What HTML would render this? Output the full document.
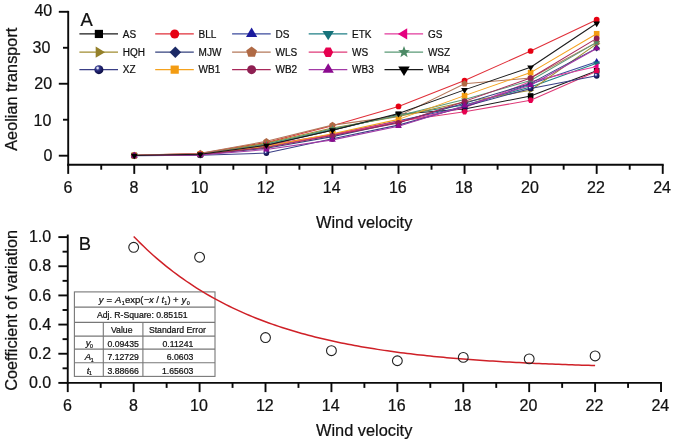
<!DOCTYPE html>
<html><head><meta charset="utf-8"><title>Aeolian transport vs wind velocity</title>
<style>html,body{margin:0;padding:0;background:#fff}svg{display:block;will-change:transform}text{font-family:"Liberation Sans",Arial,Helvetica,sans-serif;fill:#111;stroke:#111;stroke-width:0.22px}</style></head><body>
<svg width="675" height="445" viewBox="0 0 675 445">
<rect width="675" height="445" fill="#fff"/>
<defs><radialGradient id="sph" cx="0.36" cy="0.32" r="0.62"><stop offset="0" stop-color="#ffffff"/><stop offset="0.14" stop-color="#d0d3f0"/><stop offset="0.34" stop-color="#3a3f90"/><stop offset="0.6" stop-color="#1f2270"/><stop offset="1" stop-color="#10124a"/></radialGradient></defs>
<g id="top-data">
<polyline points="134.26,155.52 200.32,154.62 266.38,144.91 332.44,130.16 398.50,114.33 464.56,108.93 530.62,95.98 596.68,70.80" fill="none" stroke="#1a1a1a" stroke-width="1.05" stroke-linejoin="round"/>
<rect x="131.46" y="152.72" width="5.60" height="5.60" fill="#000000"/>
<rect x="197.52" y="151.82" width="5.60" height="5.60" fill="#000000"/>
<rect x="263.58" y="142.11" width="5.60" height="5.60" fill="#000000"/>
<rect x="329.64" y="127.36" width="5.60" height="5.60" fill="#000000"/>
<rect x="395.70" y="111.53" width="5.60" height="5.60" fill="#000000"/>
<rect x="461.76" y="106.13" width="5.60" height="5.60" fill="#000000"/>
<rect x="527.82" y="93.18" width="5.60" height="5.60" fill="#000000"/>
<rect x="593.88" y="68.00" width="5.60" height="5.60" fill="#000000"/>
<polyline points="134.26,155.34 200.32,153.54 266.38,142.39 332.44,125.84 398.50,106.41 464.56,80.51 530.62,51.01 596.68,19.71" fill="none" stroke="#e02f39" stroke-width="1.05" stroke-linejoin="round"/>
<circle cx="134.26" cy="155.34" r="2.86" fill="#e60012"/>
<circle cx="200.32" cy="153.54" r="2.86" fill="#e60012"/>
<circle cx="266.38" cy="142.39" r="2.86" fill="#e60012"/>
<circle cx="332.44" cy="125.84" r="2.86" fill="#e60012"/>
<circle cx="398.50" cy="106.41" r="2.86" fill="#e60012"/>
<circle cx="464.56" cy="80.51" r="2.86" fill="#e60012"/>
<circle cx="530.62" cy="51.01" r="2.86" fill="#e60012"/>
<circle cx="596.68" cy="19.71" r="2.86" fill="#e60012"/>
<polyline points="134.26,155.52 200.32,154.62 266.38,146.71 332.44,134.47 398.50,120.80 464.56,106.77 530.62,84.11 596.68,61.81" fill="none" stroke="#3b4a9c" stroke-width="1.05" stroke-linejoin="round"/>
<polygon points="134.26,151.70 137.62,157.38 130.90,157.38" fill="#1b1b9e"/>
<polygon points="200.32,150.80 203.68,156.48 196.96,156.48" fill="#1b1b9e"/>
<polygon points="266.38,142.88 269.74,148.57 263.02,148.57" fill="#1b1b9e"/>
<polygon points="332.44,130.65 335.80,136.34 329.08,136.34" fill="#1b1b9e"/>
<polygon points="398.50,116.98 401.86,122.67 395.14,122.67" fill="#1b1b9e"/>
<polygon points="464.56,102.95 467.92,108.64 461.20,108.64" fill="#1b1b9e"/>
<polygon points="530.62,80.29 533.98,85.97 527.26,85.97" fill="#1b1b9e"/>
<polygon points="596.68,57.98 600.04,63.67 593.32,63.67" fill="#1b1b9e"/>
<polyline points="134.26,155.52 200.32,153.90 266.38,143.83 332.44,129.44 398.50,115.05 464.56,104.98 530.62,86.99 596.68,63.24" fill="none" stroke="#1f7f86" stroke-width="1.05" stroke-linejoin="round"/>
<polygon points="134.26,159.34 137.69,153.71 130.83,153.71" fill="#16727a"/>
<polygon points="200.32,157.72 203.75,152.09 196.89,152.09" fill="#16727a"/>
<polygon points="266.38,147.65 269.81,142.02 262.95,142.02" fill="#16727a"/>
<polygon points="332.44,133.26 335.87,127.63 329.01,127.63" fill="#16727a"/>
<polygon points="398.50,118.87 401.93,113.24 395.07,113.24" fill="#16727a"/>
<polygon points="464.56,108.80 467.99,103.16 461.13,103.16" fill="#16727a"/>
<polygon points="530.62,90.81 534.05,85.17 527.19,85.17" fill="#16727a"/>
<polygon points="596.68,67.07 600.11,61.43 593.25,61.43" fill="#16727a"/>
<polyline points="134.26,155.52 200.32,154.26 266.38,145.99 332.44,135.19 398.50,121.88 464.56,107.85 530.62,81.59 596.68,66.48" fill="none" stroke="#e23a9c" stroke-width="1.05" stroke-linejoin="round"/>
<polygon points="130.58,155.52 136.17,152.19 136.17,158.85" fill="#e4007f"/>
<polygon points="196.64,154.26 202.23,150.93 202.23,157.59" fill="#e4007f"/>
<polygon points="262.70,145.99 268.29,142.65 268.29,149.32" fill="#e4007f"/>
<polygon points="328.76,135.19 334.35,131.86 334.35,138.53" fill="#e4007f"/>
<polygon points="394.82,121.88 400.41,118.55 400.41,125.22" fill="#e4007f"/>
<polygon points="460.88,107.85 466.47,104.52 466.47,111.19" fill="#e4007f"/>
<polygon points="526.95,81.59 532.53,78.26 532.53,84.92" fill="#e4007f"/>
<polygon points="593.01,66.48 598.59,63.15 598.59,69.81" fill="#e4007f"/>
<polyline points="134.26,155.52 200.32,154.26 266.38,143.11 332.44,128.00 398.50,116.49 464.56,102.10 530.62,90.23 596.68,43.82" fill="none" stroke="#a08c30" stroke-width="1.05" stroke-linejoin="round"/>
<polygon points="137.94,155.52 132.35,152.19 132.35,158.85" fill="#94802a"/>
<polygon points="204.00,154.26 198.41,150.93 198.41,157.59" fill="#94802a"/>
<polygon points="270.06,143.11 264.47,139.78 264.47,146.44" fill="#94802a"/>
<polygon points="336.12,128.00 330.53,124.67 330.53,131.33" fill="#94802a"/>
<polygon points="402.18,116.49 396.59,113.16 396.59,119.82" fill="#94802a"/>
<polygon points="468.24,102.10 462.65,98.77 462.65,105.43" fill="#94802a"/>
<polygon points="534.29,90.23 528.71,86.89 528.71,93.56" fill="#94802a"/>
<polygon points="600.36,43.82 594.77,40.49 594.77,47.15" fill="#94802a"/>
<polyline points="134.26,155.52 200.32,154.62 266.38,148.15 332.44,136.63 398.50,122.24 464.56,103.18 530.62,83.39 596.68,48.13" fill="none" stroke="#35427e" stroke-width="1.05" stroke-linejoin="round"/>
<polygon points="134.26,152.09 137.69,155.52 134.26,158.95 130.83,155.52" fill="#1c2a66"/>
<polygon points="200.32,151.19 203.75,154.62 200.32,158.05 196.89,154.62" fill="#1c2a66"/>
<polygon points="266.38,144.72 269.81,148.15 266.38,151.58 262.95,148.15" fill="#1c2a66"/>
<polygon points="332.44,133.20 335.87,136.63 332.44,140.06 329.01,136.63" fill="#1c2a66"/>
<polygon points="398.50,118.81 401.93,122.24 398.50,125.67 395.07,122.24" fill="#1c2a66"/>
<polygon points="464.56,99.75 467.99,103.18 464.56,106.61 461.13,103.18" fill="#1c2a66"/>
<polygon points="530.62,79.96 534.05,83.39 530.62,86.82 527.19,83.39" fill="#1c2a66"/>
<polygon points="596.68,44.70 600.11,48.13 596.68,51.56 593.25,48.13" fill="#1c2a66"/>
<polyline points="134.26,155.34 200.32,153.18 266.38,141.31 332.44,125.12 398.50,116.13 464.56,83.75 530.62,77.99 596.68,42.38" fill="none" stroke="#b4785a" stroke-width="1.05" stroke-linejoin="round"/>
<polygon points="134.26,151.96 137.48,154.30 136.25,158.08 132.27,158.08 131.04,154.30" fill="#b06a45"/>
<polygon points="200.32,149.80 203.54,152.14 202.31,155.92 198.33,155.92 197.10,152.14" fill="#b06a45"/>
<polygon points="266.38,137.93 269.60,140.27 268.37,144.05 264.39,144.05 263.16,140.27" fill="#b06a45"/>
<polygon points="332.44,121.74 335.66,124.08 334.43,127.86 330.45,127.86 329.22,124.08" fill="#b06a45"/>
<polygon points="398.50,112.75 401.72,115.08 400.49,118.86 396.51,118.86 395.28,115.08" fill="#b06a45"/>
<polygon points="464.56,80.37 467.78,82.71 466.55,86.49 462.57,86.49 461.34,82.71" fill="#b06a45"/>
<polygon points="530.62,74.61 533.84,76.95 532.61,80.73 528.63,80.73 527.40,76.95" fill="#b06a45"/>
<polygon points="596.68,39.00 599.90,41.33 598.67,45.11 594.69,45.11 593.46,41.33" fill="#b06a45"/>
<polyline points="134.26,155.52 200.32,153.90 266.38,144.91 332.44,134.47 398.50,121.16 464.56,111.81 530.62,100.30 596.68,71.16" fill="none" stroke="#df3a78" stroke-width="1.05" stroke-linejoin="round"/>
<polygon points="137.20,155.52 135.73,158.32 132.79,158.32 131.32,155.52 132.79,152.72 135.73,152.72" fill="#e6004f"/>
<polygon points="203.26,153.90 201.79,156.70 198.85,156.70 197.38,153.90 198.85,151.10 201.79,151.10" fill="#e6004f"/>
<polygon points="269.32,144.91 267.85,147.71 264.91,147.71 263.44,144.91 264.91,142.11 267.85,142.11" fill="#e6004f"/>
<polygon points="335.38,134.47 333.91,137.28 330.97,137.28 329.50,134.47 330.97,131.67 333.91,131.67" fill="#e6004f"/>
<polygon points="401.44,121.16 399.97,123.96 397.03,123.96 395.56,121.16 397.03,118.36 399.97,118.36" fill="#e6004f"/>
<polygon points="467.50,111.81 466.03,114.61 463.09,114.61 461.62,111.81 463.09,109.01 466.03,109.01" fill="#e6004f"/>
<polygon points="533.56,100.30 532.09,103.10 529.15,103.10 527.68,100.30 529.15,97.50 532.09,97.50" fill="#e6004f"/>
<polygon points="599.62,71.16 598.15,73.96 595.21,73.96 593.74,71.16 595.21,68.36 598.15,68.36" fill="#e6004f"/>
<polyline points="134.26,155.52 200.32,154.26 266.38,144.55 332.44,128.72 398.50,115.77 464.56,99.58 530.62,80.51 596.68,42.38" fill="none" stroke="#5a9a76" stroke-width="1.05" stroke-linejoin="round"/>
<polygon points="134.26,151.85 135.17,154.27 137.76,154.38 135.73,156.00 136.42,158.49 134.26,157.06 132.10,158.49 132.79,156.00 130.76,154.38 133.35,154.27" fill="#4d8a66"/>
<polygon points="200.32,150.59 201.23,153.01 203.82,153.13 201.79,154.74 202.48,157.23 200.32,155.80 198.16,157.23 198.85,154.74 196.82,153.13 199.41,153.01" fill="#4d8a66"/>
<polygon points="266.38,140.87 267.29,143.30 269.88,143.41 267.85,145.02 268.54,147.52 266.38,146.09 264.22,147.52 264.91,145.02 262.88,143.41 265.47,143.30" fill="#4d8a66"/>
<polygon points="332.44,125.04 333.35,127.47 335.94,127.58 333.91,129.20 334.60,131.69 332.44,130.26 330.28,131.69 330.97,129.20 328.94,127.58 331.53,127.47" fill="#4d8a66"/>
<polygon points="398.50,112.09 399.41,114.52 402.00,114.63 399.97,116.24 400.66,118.74 398.50,117.31 396.34,118.74 397.03,116.24 395.00,114.63 397.59,114.52" fill="#4d8a66"/>
<polygon points="464.56,95.90 465.47,98.33 468.06,98.44 466.03,100.06 466.72,102.55 464.56,101.12 462.40,102.55 463.09,100.06 461.06,98.44 463.65,98.33" fill="#4d8a66"/>
<polygon points="530.62,76.84 531.53,79.26 534.12,79.38 532.09,80.99 532.78,83.49 530.62,82.06 528.46,83.49 529.15,80.99 527.12,79.38 529.71,79.26" fill="#4d8a66"/>
<polygon points="596.68,38.70 597.59,41.13 600.18,41.24 598.15,42.86 598.84,45.35 596.68,43.92 594.52,45.35 595.21,42.86 593.18,41.24 595.77,41.13" fill="#4d8a66"/>
<polyline points="134.26,155.70 200.32,155.34 266.38,153.04 332.44,138.79 398.50,125.12 464.56,106.41 530.62,88.43 596.68,75.84" fill="none" stroke="#3a3f86" stroke-width="1.05" stroke-linejoin="round"/>
<circle cx="134.26" cy="155.70" r="2.86" fill="url(#sph)"/>
<circle cx="200.32" cy="155.34" r="2.86" fill="url(#sph)"/>
<circle cx="266.38" cy="153.04" r="2.86" fill="url(#sph)"/>
<circle cx="332.44" cy="138.79" r="2.86" fill="url(#sph)"/>
<circle cx="398.50" cy="125.12" r="2.86" fill="url(#sph)"/>
<circle cx="464.56" cy="106.41" r="2.86" fill="url(#sph)"/>
<circle cx="530.62" cy="88.43" r="2.86" fill="url(#sph)"/>
<circle cx="596.68" cy="75.84" r="2.86" fill="url(#sph)"/>
<polyline points="134.26,155.52 200.32,154.26 266.38,146.35 332.44,133.76 398.50,119.37 464.56,95.62 530.62,72.60 596.68,33.74" fill="none" stroke="#f5a21e" stroke-width="1.05" stroke-linejoin="round"/>
<rect x="131.46" y="152.72" width="5.60" height="5.60" fill="#f39c12"/>
<rect x="197.52" y="151.46" width="5.60" height="5.60" fill="#f39c12"/>
<rect x="263.58" y="143.55" width="5.60" height="5.60" fill="#f39c12"/>
<rect x="329.64" y="130.96" width="5.60" height="5.60" fill="#f39c12"/>
<rect x="395.70" y="116.57" width="5.60" height="5.60" fill="#f39c12"/>
<rect x="461.76" y="92.82" width="5.60" height="5.60" fill="#f39c12"/>
<rect x="527.82" y="69.80" width="5.60" height="5.60" fill="#f39c12"/>
<rect x="593.88" y="30.94" width="5.60" height="5.60" fill="#f39c12"/>
<polyline points="134.26,155.52 200.32,154.62 266.38,147.43 332.44,135.55 398.50,122.96 464.56,101.38 530.62,77.99 596.68,38.42" fill="none" stroke="#a8285a" stroke-width="1.05" stroke-linejoin="round"/>
<circle cx="134.26" cy="155.52" r="2.86" fill="#8e1f52"/>
<circle cx="200.32" cy="154.62" r="2.86" fill="#8e1f52"/>
<circle cx="266.38" cy="147.43" r="2.86" fill="#8e1f52"/>
<circle cx="332.44" cy="135.55" r="2.86" fill="#8e1f52"/>
<circle cx="398.50" cy="122.96" r="2.86" fill="#8e1f52"/>
<circle cx="464.56" cy="101.38" r="2.86" fill="#8e1f52"/>
<circle cx="530.62" cy="77.99" r="2.86" fill="#8e1f52"/>
<circle cx="596.68" cy="38.42" r="2.86" fill="#8e1f52"/>
<polyline points="134.26,155.59 200.32,154.98 266.38,149.58 332.44,139.87 398.50,126.20 464.56,105.69 530.62,85.19 596.68,48.49" fill="none" stroke="#a23aa6" stroke-width="1.05" stroke-linejoin="round"/>
<polygon points="134.26,151.77 137.62,157.45 130.90,157.45" fill="#8b0a8f"/>
<polygon points="200.32,151.16 203.68,156.84 196.96,156.84" fill="#8b0a8f"/>
<polygon points="266.38,145.76 269.74,151.45 263.02,151.45" fill="#8b0a8f"/>
<polygon points="332.44,136.05 335.80,141.73 329.08,141.73" fill="#8b0a8f"/>
<polygon points="398.50,122.38 401.86,128.06 395.14,128.06" fill="#8b0a8f"/>
<polygon points="464.56,101.87 467.92,107.56 461.20,107.56" fill="#8b0a8f"/>
<polygon points="530.62,81.37 533.98,87.05 527.26,87.05" fill="#8b0a8f"/>
<polygon points="596.68,44.67 600.04,50.36 593.32,50.36" fill="#8b0a8f"/>
<polyline points="134.26,155.52 200.32,154.26 266.38,145.27 332.44,130.16 398.50,113.61 464.56,89.87 530.62,67.20 596.68,23.31" fill="none" stroke="#1a1a1a" stroke-width="1.05" stroke-linejoin="round"/>
<polygon points="134.26,159.34 137.69,153.71 130.83,153.71" fill="#000000"/>
<polygon points="200.32,158.08 203.75,152.45 196.89,152.45" fill="#000000"/>
<polygon points="266.38,149.09 269.81,143.45 262.95,143.45" fill="#000000"/>
<polygon points="332.44,133.98 335.87,128.34 329.01,128.34" fill="#000000"/>
<polygon points="398.50,117.43 401.93,111.80 395.07,111.80" fill="#000000"/>
<polygon points="464.56,93.69 467.99,88.05 461.13,88.05" fill="#000000"/>
<polygon points="530.62,71.02 534.05,65.39 527.19,65.39" fill="#000000"/>
<polygon points="596.68,27.13 600.11,21.50 593.25,21.50" fill="#000000"/>
</g>
<g stroke="#0a0a0a" stroke-width="1.9" fill="none" stroke-linecap="butt">
<line x1="68.20" y1="10.85" x2="68.20" y2="165.65"/>
<line x1="67.25" y1="164.70" x2="663.69" y2="164.70"/>
<line x1="58.80" y1="155.70" x2="68.20" y2="155.70"/>
<line x1="58.80" y1="83.75" x2="68.20" y2="83.75"/>
<line x1="58.80" y1="11.80" x2="68.20" y2="11.80"/>
<line x1="63.00" y1="119.72" x2="68.20" y2="119.72"/>
<line x1="63.00" y1="47.77" x2="68.20" y2="47.77"/>
<line x1="68.20" y1="164.70" x2="68.20" y2="173.90"/>
<line x1="101.23" y1="164.70" x2="101.23" y2="169.70"/>
<line x1="134.26" y1="164.70" x2="134.26" y2="173.90"/>
<line x1="167.29" y1="164.70" x2="167.29" y2="169.70"/>
<line x1="200.32" y1="164.70" x2="200.32" y2="173.90"/>
<line x1="233.35" y1="164.70" x2="233.35" y2="169.70"/>
<line x1="266.38" y1="164.70" x2="266.38" y2="173.90"/>
<line x1="299.41" y1="164.70" x2="299.41" y2="169.70"/>
<line x1="332.44" y1="164.70" x2="332.44" y2="173.90"/>
<line x1="365.47" y1="164.70" x2="365.47" y2="169.70"/>
<line x1="398.50" y1="164.70" x2="398.50" y2="173.90"/>
<line x1="431.53" y1="164.70" x2="431.53" y2="169.70"/>
<line x1="464.56" y1="164.70" x2="464.56" y2="173.90"/>
<line x1="497.59" y1="164.70" x2="497.59" y2="169.70"/>
<line x1="530.62" y1="164.70" x2="530.62" y2="173.90"/>
<line x1="563.65" y1="164.70" x2="563.65" y2="169.70"/>
<line x1="596.68" y1="164.70" x2="596.68" y2="173.90"/>
<line x1="629.71" y1="164.70" x2="629.71" y2="169.70"/>
<line x1="662.74" y1="164.70" x2="662.74" y2="173.90"/>
</g>
<g font-size="16" text-anchor="end">
<text x="52.40" y="161.00">0</text>
<text x="51.40" y="125.52">10</text>
<text x="52.10" y="88.75">20</text>
<text x="50.30" y="53.47">30</text>
<text x="52.20" y="16.30">40</text>
</g>
<g font-size="16" text-anchor="middle">
<text x="67.90" y="193.10">6</text>
<text x="133.96" y="193.10">8</text>
<text x="199.62" y="193.10">10</text>
<text x="265.68" y="193.10">12</text>
<text x="331.74" y="193.10">14</text>
<text x="397.80" y="193.10">16</text>
<text x="463.86" y="193.10">18</text>
<text x="529.92" y="193.10">20</text>
<text x="595.98" y="193.10">22</text>
<text x="662.04" y="193.10">24</text>
</g>
<text x="364.2" y="228.2" font-size="16.35" text-anchor="middle">Wind velocity</text>
<text transform="translate(16.8,89.2) rotate(-90)" font-size="16.3" text-anchor="middle">Aeolian transport</text>
<text x="80.6" y="25.5" font-size="18.4">A</text>
<g id="legend" font-size="10">
<line x1="79.40" y1="33.95" x2="118.00" y2="33.95" stroke="#1a1a1a" stroke-width="1.3"/>
<rect x="94.80" y="29.85" width="8.20" height="8.20" fill="#000000"/>
<text x="122.80" y="37.75">AS</text>
<line x1="155.20" y1="33.95" x2="193.80" y2="33.95" stroke="#e02f39" stroke-width="1.3"/>
<circle cx="174.70" cy="33.95" r="4.51" fill="#e60012"/>
<text x="198.60" y="37.75">BLL</text>
<line x1="232.10" y1="33.95" x2="270.70" y2="33.95" stroke="#3b4a9c" stroke-width="1.3"/>
<polygon points="251.60,27.55 257.22,37.07 245.98,37.07" fill="#1b1b9e"/>
<text x="275.50" y="37.75">DS</text>
<line x1="308.70" y1="33.95" x2="347.30" y2="33.95" stroke="#1f7f86" stroke-width="1.3"/>
<polygon points="328.20,40.35 333.94,30.92 322.46,30.92" fill="#16727a"/>
<text x="352.10" y="37.75">ETK</text>
<line x1="384.50" y1="33.95" x2="423.10" y2="33.95" stroke="#e23a9c" stroke-width="1.3"/>
<polygon points="397.85,33.95 407.20,28.37 407.20,39.53" fill="#e4007f"/>
<text x="427.90" y="37.75">GS</text>
<line x1="79.40" y1="52.20" x2="118.00" y2="52.20" stroke="#a08c30" stroke-width="1.3"/>
<polygon points="105.05,52.20 95.70,46.62 95.70,57.78" fill="#94802a"/>
<text x="122.80" y="56.00">HQH</text>
<line x1="155.20" y1="52.20" x2="193.80" y2="52.20" stroke="#35427e" stroke-width="1.3"/>
<polygon points="175.30,46.46 181.04,52.20 175.30,57.94 169.56,52.20" fill="#1c2a66"/>
<text x="198.60" y="56.00">MJW</text>
<line x1="232.10" y1="52.20" x2="270.70" y2="52.20" stroke="#b4785a" stroke-width="1.3"/>
<polygon points="251.60,46.54 256.98,50.45 254.93,56.78 248.27,56.78 246.22,50.45" fill="#b06a45"/>
<text x="275.50" y="56.00">WLS</text>
<line x1="308.70" y1="52.20" x2="347.30" y2="52.20" stroke="#df3a78" stroke-width="1.3"/>
<polygon points="333.12,52.20 330.66,56.89 325.74,56.89 323.28,52.20 325.74,47.51 330.66,47.51" fill="#e6004f"/>
<text x="352.10" y="56.00">WS</text>
<line x1="384.50" y1="52.20" x2="423.10" y2="52.20" stroke="#5a9a76" stroke-width="1.3"/>
<polygon points="404.00,46.05 405.52,50.11 409.85,50.30 406.46,53.00 407.61,57.18 404.00,54.78 400.39,57.18 401.54,53.00 398.15,50.30 402.48,50.11" fill="#4d8a66"/>
<text x="427.90" y="56.00">WSZ</text>
<line x1="79.40" y1="69.65" x2="118.00" y2="69.65" stroke="#3a3f86" stroke-width="1.3"/>
<circle cx="98.90" cy="69.65" r="4.51" fill="url(#sph)"/>
<text x="122.80" y="73.45">XZ</text>
<line x1="155.20" y1="69.65" x2="193.80" y2="69.65" stroke="#f5a21e" stroke-width="1.3"/>
<rect x="170.60" y="65.55" width="8.20" height="8.20" fill="#f39c12"/>
<text x="198.60" y="73.45">WB1</text>
<line x1="232.10" y1="69.65" x2="270.70" y2="69.65" stroke="#a8285a" stroke-width="1.3"/>
<circle cx="251.60" cy="69.65" r="4.51" fill="#8e1f52"/>
<text x="275.50" y="73.45">WB2</text>
<line x1="308.70" y1="69.65" x2="347.30" y2="69.65" stroke="#a23aa6" stroke-width="1.3"/>
<polygon points="328.20,63.25 333.82,72.77 322.58,72.77" fill="#8b0a8f"/>
<text x="352.10" y="73.45">WB3</text>
<line x1="384.50" y1="69.65" x2="423.10" y2="69.65" stroke="#1a1a1a" stroke-width="1.3"/>
<polygon points="404.00,76.05 409.74,66.62 398.26,66.62" fill="#000000"/>
<text x="427.90" y="73.45">WB4</text>
</g>
<g stroke="#0a0a0a" stroke-width="1.9" fill="none" stroke-linecap="butt">
<line x1="67.75" y1="234.55" x2="67.75" y2="383.85"/>
<line x1="66.80" y1="382.90" x2="661.98" y2="382.90"/>
<line x1="58.35" y1="382.90" x2="67.75" y2="382.90"/>
<line x1="58.35" y1="353.74" x2="67.75" y2="353.74"/>
<line x1="58.35" y1="324.58" x2="67.75" y2="324.58"/>
<line x1="58.35" y1="295.42" x2="67.75" y2="295.42"/>
<line x1="58.35" y1="266.26" x2="67.75" y2="266.26"/>
<line x1="58.35" y1="237.10" x2="67.75" y2="237.10"/>
<line x1="62.55" y1="368.32" x2="67.75" y2="368.32"/>
<line x1="62.55" y1="339.16" x2="67.75" y2="339.16"/>
<line x1="62.55" y1="310.00" x2="67.75" y2="310.00"/>
<line x1="62.55" y1="280.84" x2="67.75" y2="280.84"/>
<line x1="62.55" y1="251.68" x2="67.75" y2="251.68"/>
<line x1="67.75" y1="382.90" x2="67.75" y2="392.10"/>
<line x1="100.71" y1="382.90" x2="100.71" y2="387.90"/>
<line x1="133.67" y1="382.90" x2="133.67" y2="392.10"/>
<line x1="166.63" y1="382.90" x2="166.63" y2="387.90"/>
<line x1="199.59" y1="382.90" x2="199.59" y2="392.10"/>
<line x1="232.55" y1="382.90" x2="232.55" y2="387.90"/>
<line x1="265.51" y1="382.90" x2="265.51" y2="392.10"/>
<line x1="298.47" y1="382.90" x2="298.47" y2="387.90"/>
<line x1="331.43" y1="382.90" x2="331.43" y2="392.10"/>
<line x1="364.39" y1="382.90" x2="364.39" y2="387.90"/>
<line x1="397.35" y1="382.90" x2="397.35" y2="392.10"/>
<line x1="430.31" y1="382.90" x2="430.31" y2="387.90"/>
<line x1="463.27" y1="382.90" x2="463.27" y2="392.10"/>
<line x1="496.23" y1="382.90" x2="496.23" y2="387.90"/>
<line x1="529.19" y1="382.90" x2="529.19" y2="392.10"/>
<line x1="562.15" y1="382.90" x2="562.15" y2="387.90"/>
<line x1="595.11" y1="382.90" x2="595.11" y2="392.10"/>
<line x1="628.07" y1="382.90" x2="628.07" y2="387.90"/>
<line x1="661.03" y1="382.90" x2="661.03" y2="392.10"/>
</g>
<g font-size="16" text-anchor="end">
<text x="51.20" y="388.10">0.0</text>
<text x="51.20" y="358.94">0.2</text>
<text x="51.20" y="329.78">0.4</text>
<text x="51.20" y="300.62">0.6</text>
<text x="51.20" y="271.46">0.8</text>
<text x="51.20" y="242.30">1.0</text>
</g>
<g font-size="16" text-anchor="middle">
<text x="67.45" y="411.00">6</text>
<text x="133.37" y="411.00">8</text>
<text x="198.89" y="411.00">10</text>
<text x="264.81" y="411.00">12</text>
<text x="330.73" y="411.00">14</text>
<text x="396.65" y="411.00">16</text>
<text x="462.57" y="411.00">18</text>
<text x="528.49" y="411.00">20</text>
<text x="594.41" y="411.00">22</text>
<text x="660.33" y="411.00">24</text>
</g>
<text x="364.2" y="436.2" font-size="16.35" text-anchor="middle">Wind velocity</text>
<text transform="translate(16.8,310.4) rotate(-90)" font-size="16.3" text-anchor="middle">Coefficient of variation</text>
<text x="78.8" y="250.4" font-size="18.4">B</text>
<rect x="74.4" y="291.9" width="140.60" height="84.50" fill="#fff"/>
<g stroke="#777" stroke-width="1.1" fill="none">
<rect x="74.4" y="291.9" width="140.60" height="84.50"/>
<line x1="74.4" y1="307.1" x2="215.0" y2="307.1"/>
<line x1="74.4" y1="322.4" x2="215.0" y2="322.4"/>
<line x1="74.4" y1="336.1" x2="215.0" y2="336.1"/>
<line x1="74.4" y1="349.1" x2="215.0" y2="349.1"/>
<line x1="74.4" y1="362.7" x2="215.0" y2="362.7"/>
<line x1="103.3" y1="322.4" x2="103.3" y2="376.4"/>
<line x1="142.9" y1="322.4" x2="142.9" y2="376.4"/>
</g>
<g font-size="8.7" fill="#1a1a1a">
<text font-size="9.5" y="303.0"><tspan x="98.7" y="303.0" font-style="italic">y</tspan><tspan x="106.6" y="303.0">=</tspan><tspan x="114.9" y="303.0" font-style="italic">A</tspan><tspan x="121.7" y="304.7" font-size="5.4">1</tspan><tspan x="124.9" y="303.0">exp(</tspan><tspan x="144.0" y="303.0">&#8722;</tspan><tspan x="149.0" y="303.0" font-style="italic">x</tspan><tspan x="156.3" y="303.0">/</tspan><tspan x="161.4" y="303.0" font-style="italic">t</tspan><tspan x="164.3" y="304.7" font-size="5.4">1</tspan><tspan x="167.4" y="303.0">)</tspan><tspan x="173.1" y="303.0">+</tspan><tspan x="181.4" y="303.0" font-style="italic">y</tspan><tspan x="186.8" y="304.7" font-size="5.4">0</tspan></text>
<text x="142.30" y="317.7" text-anchor="middle">Adj. R-Square: 0.85151</text>
<text x="121.7" y="333.2" text-anchor="middle">Value</text>
<text x="177.4" y="333.2" text-anchor="middle">Standard Error</text>
<text x="89.3" y="346.4" font-size="9.6" text-anchor="middle"><tspan font-style="italic">y</tspan><tspan font-size="5.2" dx="-0.4" dy="1.7" font-style="normal">0</tspan></text>
<text x="123.1" y="346.7" text-anchor="middle">0.09435</text>
<text x="193.3" y="346.7" text-anchor="end">0.11241</text>
<text x="89.3" y="360.0" font-size="9.6" text-anchor="middle"><tspan font-style="italic">A</tspan><tspan font-size="5.2" dx="-0.4" dy="1.7" font-style="normal">1</tspan></text>
<text x="123.1" y="360.3" text-anchor="middle">7.12729</text>
<text x="193.3" y="360.3" text-anchor="end">6.0603</text>
<text x="89.3" y="373.5" font-size="9.6" text-anchor="middle"><tspan font-style="italic">t</tspan><tspan font-size="5.2" dx="-0.4" dy="1.7" font-style="normal">1</tspan></text>
<text x="123.1" y="373.8" text-anchor="middle">3.88666</text>
<text x="193.3" y="373.8" text-anchor="end">1.65603</text>
</g>
<polyline points="133.67,236.48 136.97,239.85 140.26,243.13 143.56,246.33 146.85,249.45 150.15,252.49 153.45,255.45 156.74,258.34 160.04,261.16 163.33,263.90 166.63,266.57 169.93,269.18 173.22,271.72 176.52,274.19 179.81,276.60 183.11,278.95 186.41,281.25 189.70,283.48 193.00,285.65 196.29,287.77 199.59,289.84 202.89,291.86 206.18,293.82 209.48,295.73 212.77,297.60 216.07,299.41 219.37,301.19 222.66,302.91 225.96,304.59 229.25,306.23 232.55,307.83 235.85,309.39 239.14,310.91 242.44,312.39 245.73,313.83 249.03,315.23 252.33,316.60 255.62,317.94 258.92,319.24 262.21,320.51 265.51,321.74 268.81,322.94 272.10,324.12 275.40,325.26 278.69,326.38 281.99,327.46 285.29,328.52 288.58,329.55 291.88,330.56 295.17,331.54 298.47,332.49 301.77,333.43 305.06,334.33 308.36,335.22 311.65,336.08 314.95,336.92 318.25,337.74 321.54,338.53 324.84,339.31 328.13,340.07 331.43,340.81 334.73,341.53 338.02,342.23 341.32,342.91 344.61,343.58 347.91,344.23 351.21,344.86 354.50,345.48 357.80,346.08 361.09,346.67 364.39,347.24 367.69,347.79 370.98,348.34 374.28,348.86 377.57,349.38 380.87,349.88 384.17,350.37 387.46,350.85 390.76,351.31 394.05,351.76 397.35,352.21 400.65,352.64 403.94,353.06 407.24,353.46 410.53,353.86 413.83,354.25 417.13,354.63 420.42,355.00 423.72,355.36 427.01,355.71 430.31,356.05 433.61,356.38 436.90,356.71 440.20,357.02 443.49,357.33 446.79,357.63 450.09,357.92 453.38,358.21 456.68,358.48 459.97,358.76 463.27,359.02 466.57,359.28 469.86,359.53 473.16,359.77 476.45,360.01 479.75,360.24 483.05,360.47 486.34,360.69 489.64,360.90 492.93,361.11 496.23,361.32 499.53,361.52 502.82,361.71 506.12,361.90 509.41,362.08 512.71,362.26 516.01,362.44 519.30,362.61 522.60,362.77 525.89,362.93 529.19,363.09 532.49,363.25 535.78,363.40 539.08,363.54 542.37,363.68 545.67,363.82 548.97,363.96 552.26,364.09 555.56,364.22 558.85,364.34 562.15,364.46 565.45,364.58 568.74,364.70 572.04,364.81 575.33,364.92 578.63,365.03 581.93,365.13 585.22,365.24 588.52,365.34 591.81,365.43 595.11,365.53" fill="none" stroke="#cf2027" stroke-width="1.5"/>
<circle cx="133.67" cy="247.31" r="4.9" fill="#fff" fill-opacity="0" stroke="#222" stroke-width="1.1"/>
<circle cx="199.59" cy="257.22" r="4.9" fill="#fff" fill-opacity="0" stroke="#222" stroke-width="1.1"/>
<circle cx="265.51" cy="337.56" r="4.9" fill="#fff" fill-opacity="0" stroke="#222" stroke-width="1.1"/>
<circle cx="331.43" cy="350.68" r="4.9" fill="#fff" fill-opacity="0" stroke="#222" stroke-width="1.1"/>
<circle cx="397.35" cy="360.74" r="4.9" fill="#fff" fill-opacity="0" stroke="#222" stroke-width="1.1"/>
<circle cx="463.27" cy="357.38" r="4.9" fill="#fff" fill-opacity="0" stroke="#222" stroke-width="1.1"/>
<circle cx="529.19" cy="358.84" r="4.9" fill="#fff" fill-opacity="0" stroke="#222" stroke-width="1.1"/>
<circle cx="595.11" cy="355.93" r="4.9" fill="#fff" fill-opacity="0" stroke="#222" stroke-width="1.1"/>
</svg></body></html>
